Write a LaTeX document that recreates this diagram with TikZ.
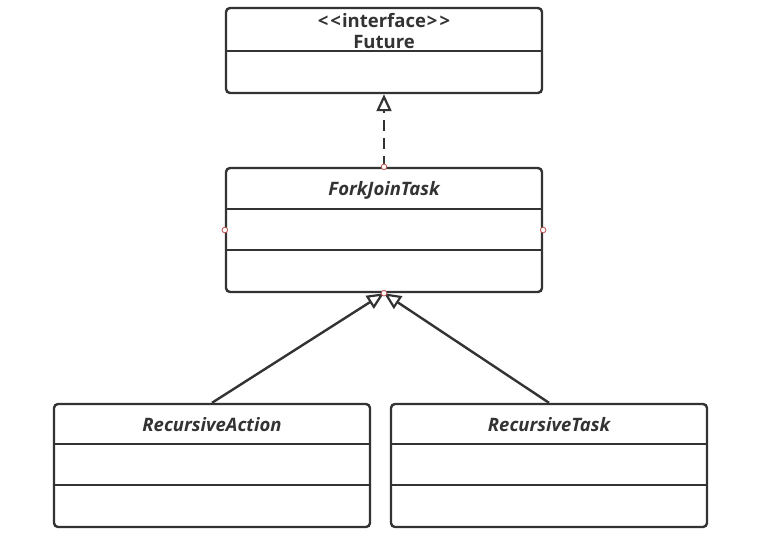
\documentclass[tikz,border=0pt]{standalone}
\usepackage{fontspec}
\setmainfont{Open Sans}
\usetikzlibrary{calc,arrows.meta}
\definecolor{ink}{HTML}{333333}
\definecolor{handle}{HTML}{C0504D}
\newcommand{\pegang}[1]{\foreach \p in {#1} \filldraw[handle,fill=white,line width=0.8pt] (\p) circle (2.8);}

\begin{document}
\begin{tikzpicture}[x=1pt,y=-1pt,line width=2.4pt,ink,
  kelas/.style={draw,rounded corners=4pt,minimum width=316pt,inner sep=0pt},
  judul/.style={font=\bfseries\fontsize{18.5}{21}\selectfont,text=ink,align=center},
  miring/.style={judul,font=\bfseries\itshape\fontsize{18.5}{21}\selectfont},
  warisan/.style={-{Triangle[open,length=17pt,width=15pt,line width=2.2pt]}}]
  \useasboundingbox (0,0) rectangle (771,536);

  \node[kelas,minimum height=85pt]  (future) at (384,50.5) {};
  \node[kelas,minimum height=124pt] (fjt)    at (384,230) {};
  \node[kelas,minimum height=123pt] (ract)   at (212,465.5) {};
  \node[kelas,minimum height=123pt] (rtask)  at (549,465.5) {};

  \draw ($(future.north west)+(0,44)$) -- ($(future.north east)+(0,44)$);
  \draw ($(fjt.north west)+(0,42)$) -- ($(fjt.north east)+(0,42)$);
  \draw ($(fjt.north west)+(0,83)$) -- ($(fjt.north east)+(0,83)$);
  \foreach \k in {ract,rtask} {
    \draw ($(\k.north west)+(0,41)$) -- ($(\k.north east)+(0,41)$);
    \draw ($(\k.north west)+(0,82)$) -- ($(\k.north east)+(0,82)$);
  }

  \node[judul] (future-t) at (384,31) {{<}\kern2pt{<}\kern1pt interface\kern1pt{>}\kern2pt{>}\\Future};
  \node[miring] (fjt-t)   at (384,190) {ForkJoinTask};
  \node[miring] (ract-t)  at (212,425) {RecursiveAction};
  \node[miring] (rtask-t) at (549,425) {RecursiveTask};

  \draw[warisan,dash pattern=on 11pt off 7pt] (fjt.north) -- (future.south);
  \draw[warisan] (ract.north) -- (fjt.south);
  \draw[warisan] (rtask.north) -- (fjt.south);

  \pegang{fjt.north,fjt.west,fjt.east,fjt.south}
\end{tikzpicture}
\end{document}
